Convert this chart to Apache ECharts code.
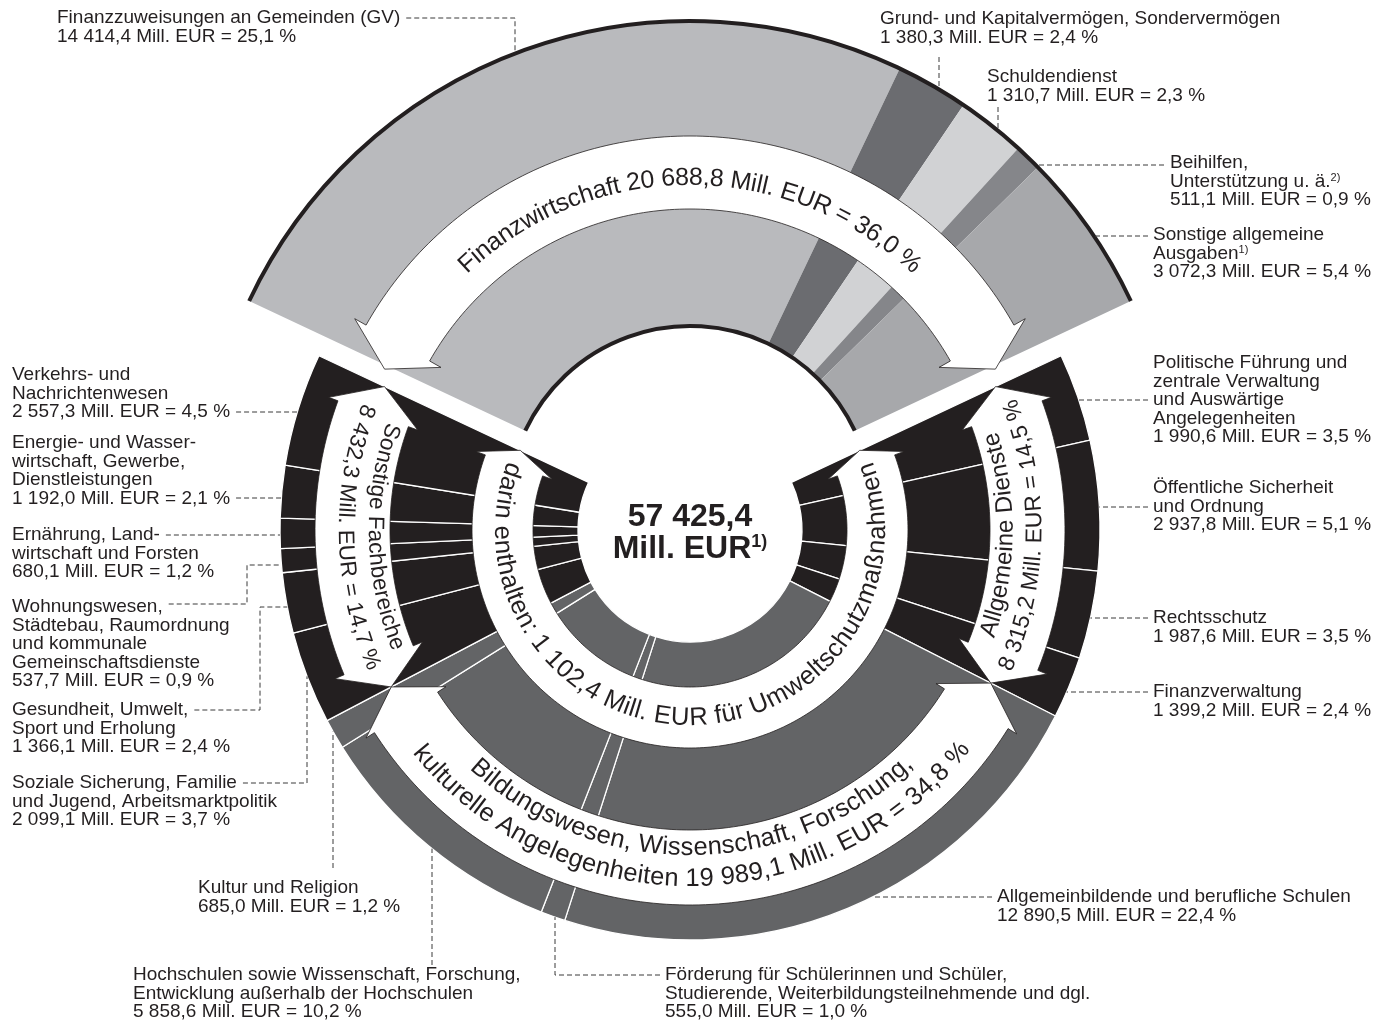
<!DOCTYPE html>
<html>
<head>
<meta charset="utf-8">
<script src="https://cdn.jsdelivr.net/npm/echarts@6/dist/echarts.min.js"></script>
<style>
  html, body { margin: 0; padding: 0; background: #fff; }
  #chart { width: 1374px; height: 1025px; }
</style>
</head>
<body>
<div id="chart"></div>
<script>
// Ausgaben nach Aufgabenbereichen, Mill. EUR
const totalValue = 57425.4;
const umweltValue = 1102.4;

// groups, clockwise starting with the pulled-out top sector
const groupValues = [20688.8, 8315.2, 19989.1, 8432.3];
const groupBandLines = [
  ['Finanzwirtschaft'],
  ['Allgemeine Dienste'],
  ['Bildungswesen, Wissenschaft, Forschung,', 'kulturelle Angelegenheiten'],
  ['Sonstige Fachbereiche']
];

// sub items, clockwise inside each group
const finanzLabels = [
  ['Finanzzuweisungen an Gemeinden (GV)'],
  ['Grund- und Kapitalvermögen, Sondervermögen'],
  ['Schuldendienst'],
  ['Beihilfen,', 'Unterstützung u. ä.{sup|2)}'],
  ['Sonstige allgemeine', 'Ausgaben{sup|1)}']
];
const finanzValues = [14414.4, 1380.3, 1310.7, 511.1, 3072.3];
const finanzColors = ['#b9babd', '#6b6c70', '#d1d2d4', '#85868a', '#a7a8ab'];

const dienstLabels = [
  ['Politische Führung und', 'zentrale Verwaltung', 'und Auswärtige', 'Angelegenheiten'],
  ['Öffentliche Sicherheit', 'und Ordnung'],
  ['Rechtsschutz'],
  ['Finanzverwaltung']
];
const dienstValues = [1990.6, 2937.8, 1987.6, 1399.2];

const bildungLabels = [
  ['Allgemeinbildende und berufliche Schulen'],
  ['Förderung für Schülerinnen und Schüler,', 'Studierende, Weiterbildungsteilnehmende und dgl.'],
  ['Hochschulen sowie Wissenschaft, Forschung,', 'Entwicklung außerhalb der Hochschulen'],
  ['Kultur und Religion']
];
const bildungValues = [12890.5, 555.0, 5858.6, 685.0];

const fachLabels = [
  ['Soziale Sicherung, Familie', 'und Jugend, Arbeitsmarktpolitik'],
  ['Gesundheit, Umwelt,', 'Sport und Erholung'],
  ['Wohnungswesen,', 'Städtebau, Raumordnung', 'und kommunale', 'Gemeinschaftsdienste'],
  ['Ernährung, Land-', 'wirtschaft und Forsten'],
  ['Energie- und Wasser-', 'wirtschaft, Gewerbe,', 'Dienstleistungen'],
  ['Verkehrs- und', 'Nachrichtenwesen']
];
const fachValues = [2099.1, 1366.1, 537.7, 680.1, 1192.0, 2557.3];

// ---- layout ----
const INK = '#231f20';
const GRAY = '#636466';
const FONT = '"Liberation Sans", Arial, sans-serif';
const C_LOW = [690, 530];
const C_TOP = [690, 508];   // Finanzwirtschaft pulled out upwards
const R_HOLE = 112, R_OUT = 410, R_TOP_IN = 182, R_TOP_OUT = 487;
const LS = 19, LH = 18.5;   // outside labels

const fmt = v => {
  const [i, d] = v.toFixed(1).split('.');
  return i.replace(/\B(?=(\d{3})+(?!\d))/g, ' ') + ',' + d;
};
const pct = v => (v / totalValue * 100).toFixed(1).replace('.', ',');
const valueLine = v => fmt(v) + ' Mill. EUR = ' + pct(v) + ' %';

const measureCtx = document.createElement('canvas').getContext('2d');
function textWidth(s, size, weight) {
  measureCtx.font = (weight || 'normal') + ' ' + size + 'px ' + FONT;
  return measureCtx.measureText(s).width;
}

// group boundaries in degrees, clockwise from 12 o'clock
const deg = v => v / totalValue * 360;
const bounds = [-deg(groupValues[0]) / 2];
groupValues.forEach((v, i) => bounds.push(bounds[i] + deg(v)));

function pt(c, r, phi) {
  const a = phi * Math.PI / 180;
  return [c[0] + r * Math.sin(a), c[1] - r * Math.cos(a)];
}
// where a horizontal (y fixed) or vertical (x fixed) leader meets a ring
const ringH = (c, r, y, side) => [c[0] + side * Math.sqrt(r * r - (y - c[1]) ** 2), y];
const ringV = (c, r, x, side) => [x, c[1] + side * Math.sqrt(r * r - (x - c[0]) ** 2)];

const els = [];

function arcEl(c, r, p0, p1, w) {
  return {
    type: 'arc', z: 50, silent: true,
    shape: { cx: c[0], cy: c[1], r: r, startAngle: (p0 - 90) * Math.PI / 180, endAngle: (p1 - 90) * Math.PI / 180, clockwise: true },
    style: { stroke: INK, lineWidth: w, fill: 'none' }
  };
}

function arrow(c, r0, r1, pA, pB, head, ext) {
  const rm = (r0 + r1) / 2, a = pA + head, b = pB - head, pts = [];
  const n = Math.max(2, Math.ceil(b - a));
  for (let i = 0; i <= n; i++) pts.push(pt(c, r1, a + (b - a) * i / n));
  pts.push(pt(c, r1 + ext, b), pt(c, rm, pB), pt(c, r0 - ext, b));
  for (let i = n; i >= 0; i--) pts.push(pt(c, r0, a + (b - a) * i / n));
  pts.push(pt(c, r0 - ext, a), pt(c, rm, pA), pt(c, r1 + ext, a));
  els.push({ type: 'polygon', z: 60, silent: true, shape: { points: pts }, style: { fill: '#fff', stroke: INK, lineWidth: 0.8 } });
}

// text along an arc; outward = reading clockwise with tops away from the centre
function arcText(str, c, r, phiC, size, outward) {
  const chars = Array.from(str);
  const ws = chars.map(ch => textWidth(ch, size));
  const total = ws.reduce((s, w) => s + w, 0);
  let acc = 0;
  chars.forEach((ch, i) => {
    const s = acc + ws[i] / 2;
    acc += ws[i];
    if (ch === ' ') return;
    const off = (s - total / 2) / r * 180 / Math.PI;
    const phi = outward ? phiC + off : phiC - off;
    const p = pt(c, r, phi);
    const rot = outward ? -phi * Math.PI / 180 : Math.PI - phi * Math.PI / 180;
    els.push({
      type: 'text', z: 70, x: p[0], y: p[1], rotation: rot, silent: true,
      style: { text: ch, fontSize: size, fontFamily: FONT, fill: INK, align: 'center', verticalAlign: 'middle' }
    });
  });
}

function label(lines, x, yc) {
  els.push({
    type: 'text', z: 70, x: x, y: yc - LH / 2, silent: true,
    style: {
      text: lines.join('\n'), fontSize: LS, fontFamily: FONT, fill: INK,
      align: 'left', verticalAlign: 'top', lineHeight: LH,
      rich: { sup: { fontSize: 11, fontFamily: FONT, fill: INK, verticalAlign: 'top', lineHeight: 10 } }
    }
  });
}

function leader(points) {
  els.push({
    type: 'polyline', z: 65, silent: true, shape: { points: points },
    style: { stroke: '#3a3a3a', lineWidth: 1, lineDash: [5, 3], fill: 'none' }
  });
}

// rims of the pulled-out sector
els.push(arcEl(C_TOP, R_TOP_OUT, bounds[0], bounds[1], 4));
els.push(arcEl(C_TOP, R_TOP_IN, bounds[0], bounds[1], 4));

// white arrows
arrow(C_TOP, 299, 372, bounds[0] - 0.7, bounds[1] + 0.7, 5, 13);
arrow(C_LOW, 300, 375, bounds[1], bounds[2], 5, 10);
arrow(C_LOW, 300, 375, bounds[2], bounds[3], 5, 10);
arrow(C_LOW, 300, 375, bounds[3], bounds[4], 5, 10);
arrow(C_LOW, 157, 218, bounds[1], bounds[4], 5, 10);

// arrow texts
const mid = i => (bounds[i] + bounds[i + 1]) / 2;
arcText(groupBandLines[0][0] + ' ' + valueLine(groupValues[0]), C_TOP, 330, mid(0), 25, true);
arcText(groupBandLines[1][0], C_LOW, 316, mid(1), 24, false);
arcText(valueLine(groupValues[1]), C_LOW, 345, mid(1), 23, false);
arcText(groupBandLines[2][0], C_LOW, 318, mid(2), 25.5, false);
arcText(groupBandLines[2][1] + ' ' + valueLine(groupValues[2]), C_LOW, 349, mid(2), 25.5, false);
arcText(groupBandLines[3][0], C_LOW, 315, mid(3), 22.5, false);
arcText(valueLine(groupValues[3]), C_LOW, 345, mid(3), 22.5, false);
arcText('darin enthalten: ' + fmt(umweltValue) + ' Mill. EUR für Umweltschutzmaßnahmen', C_LOW, 188, 180, 25.5, false);

// centre
els.push({
  type: 'text', z: 70, x: 690, y: 533, silent: true,
  style: {
    text: '{b|' + fmt(totalValue) + '}\n{b|Mill. EUR}{s|1)}',
    align: 'center', verticalAlign: 'middle',
    rich: {
      b: { fontSize: 32, fontWeight: 'bold', fontFamily: FONT, fill: INK, lineHeight: 32 },
      s: { fontSize: 18, fontWeight: 'bold', fontFamily: FONT, fill: INK, verticalAlign: 'top', lineHeight: 20 }
    }
  }
});

// outside labels
const finanzPos = [[57, 18], [880, 19], [987, 77], [1170, 163], [1153, 235]];
const dienstPos = [[1153, 363], [1153, 488], [1153, 618], [1153, 692]];
const bildungPos = [[997, 897], [665, 975], [133, 975], [198, 888]];
const fachPos = [[12, 783], [12, 710], [12, 607], [12, 535], [12, 443], [12, 375]];

const allLabels = [
  [finanzLabels, finanzValues, finanzPos],
  [dienstLabels, dienstValues, dienstPos],
  [bildungLabels, bildungValues, bildungPos],
  [fachLabels, fachValues, fachPos]
];
allLabels.forEach(([names, vals, pos]) => {
  names.forEach((lines, i) => label(lines.concat([valueLine(vals[i])]), pos[i][0], pos[i][1]));
});

const endX = (lines, vals, pos, i, li) => {
  const all = lines[i].concat([valueLine(vals[i])]);
  return pos[i][0] + textWidth(all[li], LS) + 6;
};

// leader lines
leader([[endX(finanzLabels, finanzValues, finanzPos, 0, 0), 18], [515, 18], ringV(C_TOP, R_TOP_OUT, 515, -1)]);
leader([[939, 57], ringV(C_TOP, R_TOP_OUT, 939, -1)]);
leader([[998, 107], ringV(C_TOP, R_TOP_OUT, 998, -1)]);
leader([[1164, 165], ringH(C_TOP, R_TOP_OUT, 165, 1)]);
leader([[1148, 236], ringH(C_TOP, R_TOP_OUT, 236, 1)]);

leader([[1148, 400], ringH(C_LOW, R_OUT, 400, 1)]);
leader([[1148, 507], ringH(C_LOW, R_OUT, 507, 1)]);
leader([[1148, 618], ringH(C_LOW, R_OUT, 618, 1)]);
leader([[1148, 692], ringH(C_LOW, R_OUT, 692, 1)]);

leader([[992, 897], ringH(C_LOW, R_OUT, 897, 1)]);
leader([[660, 975], [555, 975], ringV(C_LOW, R_OUT, 555, 1)]);
leader([[432, 965], ringV(C_LOW, R_OUT, 432, 1)]);
leader([[333, 868], ringV(C_LOW, R_OUT, 333, 1)]);

leader([[endX(fachLabels, fachValues, fachPos, 0, 0), 783], [307, 783], ringV(C_LOW, R_OUT, 307, 1)]);
leader([[endX(fachLabels, fachValues, fachPos, 1, 0), 710], [260, 710], [260, 607], ringH(C_LOW, R_OUT, 607, -1)]);
leader([[endX(fachLabels, fachValues, fachPos, 2, 0), 604], [247, 604], [247, 565], ringH(C_LOW, R_OUT, 565, -1)]);
leader([[endX(fachLabels, fachValues, fachPos, 3, 0), 535], ringH(C_LOW, R_OUT, 535, -1)]);
leader([[endX(fachLabels, fachValues, fachPos, 4, 3), 498], ringH(C_LOW, R_OUT, 498, -1)]);
leader([[endX(fachLabels, fachValues, fachPos, 5, 2), 412], ringH(C_LOW, R_OUT, 412, -1)]);

// ---- pies ----
const hidden = { color: 'transparent', borderWidth: 0 };
const lowData = [{ value: groupValues[0], itemStyle: hidden }]
  .concat(dienstValues.map((v, i) => ({ name: dienstLabels[i][0], value: v, itemStyle: { color: INK } })))
  .concat(bildungValues.map((v, i) => ({ name: bildungLabels[i][0], value: v, itemStyle: { color: GRAY } })))
  .concat(fachValues.map((v, i) => ({ name: fachLabels[i][0], value: v, itemStyle: { color: INK } })));
const topData = finanzValues.map((v, i) => ({ name: finanzLabels[i][0], value: v, itemStyle: { color: finanzColors[i], borderWidth: 0 } }))
  .concat([{ value: groupValues[1] + groupValues[2] + groupValues[3], itemStyle: hidden }]);

const pieBase = {
  type: 'pie', clockwise: true, startAngle: 90 - bounds[0],
  label: { show: false }, labelLine: { show: false },
  emphasis: { disabled: true }, silent: true, avoidLabelOverlap: false, animation: false
};

const chart = echarts.init(document.getElementById('chart'), null, { renderer: 'canvas', width: 1374, height: 1025 });
chart.setOption({
  animation: false,
  series: [
    Object.assign({}, pieBase, {
      center: C_LOW, radius: [R_HOLE, R_OUT], data: lowData,
      itemStyle: { borderColor: '#fff', borderWidth: 1.3 }
    }),
    Object.assign({}, pieBase, {
      center: C_TOP, radius: [R_TOP_IN, R_TOP_OUT], data: topData
    })
  ],
  graphic: { elements: els }
});
</script>
</body>
</html>
